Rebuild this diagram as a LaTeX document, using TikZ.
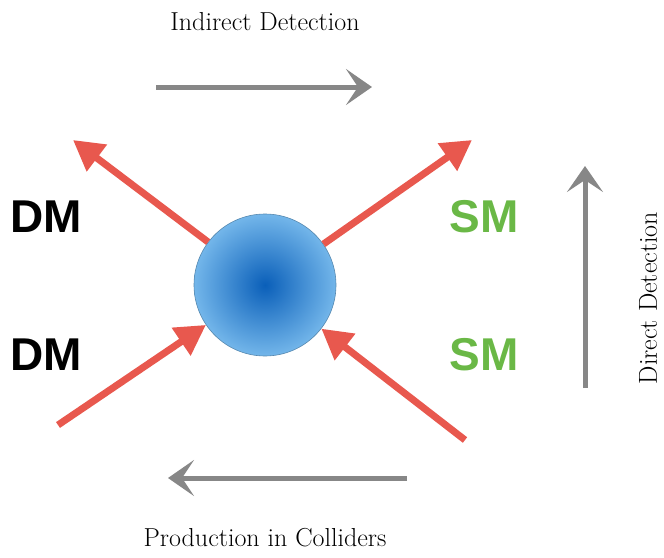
\documentclass[tikz,border=0pt]{standalone}
\usepackage{fontspec}
\newfontfamily\dmfont{Liberation Sans}
\usetikzlibrary{arrows.meta}
\definecolor{arrowred}{RGB}{232,88,78}
\definecolor{arrowgray}{RGB}{135,135,135}
\definecolor{smgreen}{RGB}{106,184,70}
\definecolor{blobdark}{RGB}{10,95,185}
\definecolor{bloblight}{RGB}{115,182,234}

\begin{document}
\begin{tikzpicture}[x=1pt,y=-1pt]
		\tikzset{particle/.style = {font=\dmfont\bfseries\fontsize{46}{46}\selectfont, inner sep=0pt}}
		\tikzset{channel/.style = {font=\fontsize{26}{30}\selectfont, inner sep=0pt}}
		\tikzset{flow/.style = {draw=arrowred, line width=7pt, -{Triangle[length=30pt,width=32pt]}}}
		\tikzset{process/.style = {draw=arrowgray, line width=5pt, -{Stealth[length=26pt,width=36pt,inset=12pt]}}}

		\useasboundingbox (0,0) rectangle (664,557);

		\node[circle, minimum size=142pt, inner color=blobdark, outer color=bloblight, draw=bloblight!75!black, line width=0.6pt] (blob) at (265,285) {};

		\node[particle] (DM_1) at (46,217) {DM};
		\node[particle] (DM_2) at (46,355) {DM};
		\node[particle, text=smgreen] (SM_1) at (484,217) {SM};
		\node[particle, text=smgreen] (SM_2) at (484,355) {SM};

		\coordinate (P_1) at (73,140);
		\coordinate (P_2) at (472,140);
		\coordinate (P_3) at (58,425);
		\coordinate (P_4) at (465,440);

		\draw[flow] (blob) to (P_1);
		\draw[flow] (blob) to (P_2);
		\draw[flow] (P_3) to (blob);
		\draw[flow] (P_4) to (blob);

		\node[channel] (indirect) at (265,22) {Indirect Detection};
		\node[channel] (production) at (265,538) {Production in Colliders};
		\node[channel, rotate=90] (direct) at (648,298) {Direct Detection};

		\coordinate (Q_1) at (156,87);
		\coordinate (Q_2) at (372,87);
		\coordinate (Q_3) at (585,388);
		\coordinate (Q_4) at (585,166);
		\coordinate (Q_5) at (407,478);
		\coordinate (Q_6) at (168,478);

		\draw[process] (Q_1) to (Q_2);
		\draw[process] (Q_3) to (Q_4);
		\draw[process] (Q_5) to (Q_6);


	\end{tikzpicture}
\end{document}
